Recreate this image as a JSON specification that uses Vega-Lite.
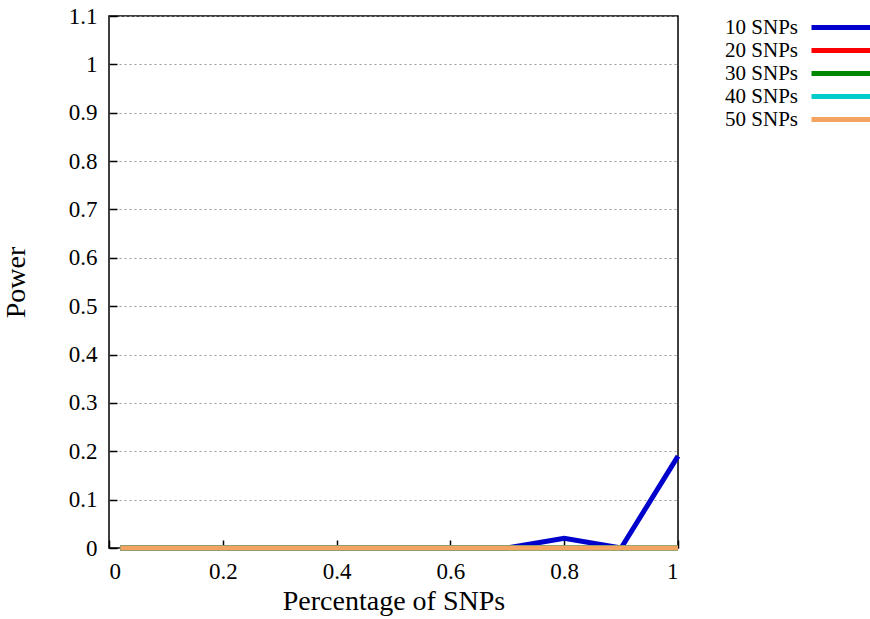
{
  "$schema": "https://vega.github.io/schema/vega-lite/v6.json",
  "width": 569,
  "height": 532,
  "autosize": {"type": "none"},
  "padding": {"left": 109, "top": 16, "right": 192, "bottom": 71},
  "background": "white",
  "config": {
    "view": {"stroke": "black", "strokeWidth": 1.5},
    "font": "Liberation Serif",
    "axis": {
      "labelFont": "Liberation Serif",
      "titleFont": "Liberation Serif",
      "labelColor": "black",
      "titleColor": "black",
      "titleFontWeight": "normal",
      "domain": false,
      "tickColor": "black",
      "tickWidth": 1.5
    }
  },
  "data": {
    "values": [
      {"pct": 0.02, "power": 0, "series": "10 SNPs"},
      {"pct": 0.1, "power": 0, "series": "10 SNPs"},
      {"pct": 0.2, "power": 0, "series": "10 SNPs"},
      {"pct": 0.3, "power": 0, "series": "10 SNPs"},
      {"pct": 0.4, "power": 0, "series": "10 SNPs"},
      {"pct": 0.5, "power": 0, "series": "10 SNPs"},
      {"pct": 0.6, "power": 0, "series": "10 SNPs"},
      {"pct": 0.7, "power": 0, "series": "10 SNPs"},
      {"pct": 0.8, "power": 0.02, "series": "10 SNPs"},
      {"pct": 0.9, "power": 0, "series": "10 SNPs"},
      {"pct": 1.0, "power": 0.19, "series": "10 SNPs"},
      {"pct": 0.02, "power": 0, "series": "20 SNPs"},
      {"pct": 0.1, "power": 0, "series": "20 SNPs"},
      {"pct": 0.2, "power": 0, "series": "20 SNPs"},
      {"pct": 0.3, "power": 0, "series": "20 SNPs"},
      {"pct": 0.4, "power": 0, "series": "20 SNPs"},
      {"pct": 0.5, "power": 0, "series": "20 SNPs"},
      {"pct": 0.6, "power": 0, "series": "20 SNPs"},
      {"pct": 0.7, "power": 0, "series": "20 SNPs"},
      {"pct": 0.8, "power": 0, "series": "20 SNPs"},
      {"pct": 0.9, "power": 0, "series": "20 SNPs"},
      {"pct": 1.0, "power": 0, "series": "20 SNPs"},
      {"pct": 0.02, "power": 0, "series": "30 SNPs"},
      {"pct": 0.1, "power": 0, "series": "30 SNPs"},
      {"pct": 0.2, "power": 0, "series": "30 SNPs"},
      {"pct": 0.3, "power": 0, "series": "30 SNPs"},
      {"pct": 0.4, "power": 0, "series": "30 SNPs"},
      {"pct": 0.5, "power": 0, "series": "30 SNPs"},
      {"pct": 0.6, "power": 0, "series": "30 SNPs"},
      {"pct": 0.7, "power": 0, "series": "30 SNPs"},
      {"pct": 0.8, "power": 0, "series": "30 SNPs"},
      {"pct": 0.9, "power": 0, "series": "30 SNPs"},
      {"pct": 1.0, "power": 0, "series": "30 SNPs"},
      {"pct": 0.02, "power": 0, "series": "40 SNPs"},
      {"pct": 0.1, "power": 0, "series": "40 SNPs"},
      {"pct": 0.2, "power": 0, "series": "40 SNPs"},
      {"pct": 0.3, "power": 0, "series": "40 SNPs"},
      {"pct": 0.4, "power": 0, "series": "40 SNPs"},
      {"pct": 0.5, "power": 0, "series": "40 SNPs"},
      {"pct": 0.6, "power": 0, "series": "40 SNPs"},
      {"pct": 0.7, "power": 0, "series": "40 SNPs"},
      {"pct": 0.8, "power": 0, "series": "40 SNPs"},
      {"pct": 0.9, "power": 0, "series": "40 SNPs"},
      {"pct": 1.0, "power": 0, "series": "40 SNPs"},
      {"pct": 0.02, "power": 0, "series": "50 SNPs"},
      {"pct": 0.1, "power": 0, "series": "50 SNPs"},
      {"pct": 0.2, "power": 0, "series": "50 SNPs"},
      {"pct": 0.3, "power": 0, "series": "50 SNPs"},
      {"pct": 0.4, "power": 0, "series": "50 SNPs"},
      {"pct": 0.5, "power": 0, "series": "50 SNPs"},
      {"pct": 0.6, "power": 0, "series": "50 SNPs"},
      {"pct": 0.7, "power": 0, "series": "50 SNPs"},
      {"pct": 0.8, "power": 0, "series": "50 SNPs"},
      {"pct": 0.9, "power": 0, "series": "50 SNPs"},
      {"pct": 1.0, "power": 0, "series": "50 SNPs"}
    ]
  },
  "mark": {"type": "line", "strokeWidth": 5, "strokeCap": "butt", "strokeJoin": "miter"},
  "encoding": {
    "x": {
      "field": "pct",
      "type": "quantitative",
      "scale": {"domain": [0, 1], "nice": false, "zero": false},
      "axis": {
        "title": "Percentage of SNPs",
        "values": [0, 0.2, 0.4, 0.6, 0.8, 1],
        "format": "~g",
        "grid": false,
        "tickSize": -8,
        "labelPadding": 20,
        "labelFontSize": 23,
        "titleFontSize": 28,
        "titlePadding": 4
      }
    },
    "y": {
      "field": "power",
      "type": "quantitative",
      "scale": {"domain": [0, 1.1], "nice": false},
      "axis": {
        "title": "Power",
        "values": [0, 0.1, 0.2, 0.3, 0.4, 0.5, 0.6, 0.7, 0.8, 0.9, 1, 1.1],
        "format": "~g",
        "grid": true,
        "gridColor": "#999999",
        "gridDash": [2, 3],
        "gridWidth": 1,
        "tickSize": -8,
        "labelPadding": 20,
        "labelFontSize": 23,
        "titleFontSize": 28,
        "titlePadding": 38
      }
    },
    "color": {
      "field": "series",
      "type": "nominal",
      "scale": {
        "domain": ["10 SNPs", "20 SNPs", "30 SNPs", "40 SNPs", "50 SNPs"],
        "range": ["#0000cc", "#ff0000", "#008800", "#00cccc", "#f4a460"]
      },
      "legend": {
        "title": null,
        "orient": "none",
        "legendX": 720,
        "legendY": -1,
        "symbolType": "M-3,0H3",
        "symbolSize": 400,
        "symbolStrokeWidth": 5,
        "labelAlign": "right",
        "labelOffset": -56,
        "labelFont": "Liberation Serif",
        "labelFontSize": 21,
        "labelColor": "black",
        "rowPadding": 0
      }
    }
  }
}
